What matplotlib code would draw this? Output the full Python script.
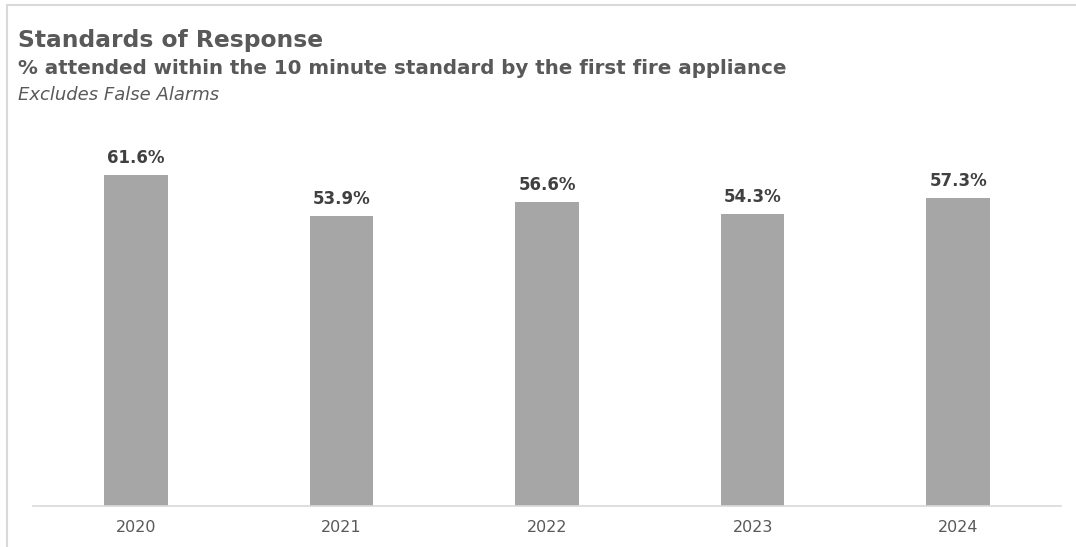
import matplotlib
matplotlib.use("Agg")
import matplotlib.pyplot as plt
from matplotlib.lines import Line2D

years = ["2020", "2021", "2022", "2023", "2024"]
pct_attended = [61.6, 53.9, 56.6, 54.3, 57.3]

plt.rcParams["font.family"] = ["DejaVu Sans"]

fig = plt.figure(figsize=(10.76, 5.47), dpi=100)
W, H = 1076, 547

# axes placed in pixel terms
left, right, bottom, top = 33, 1061, 506, 130
ax = fig.add_axes([left / W, 1 - bottom / H, (right - left) / W, (bottom - top) / H])

x = range(len(years))
ax.bar(x, pct_attended, width=0.31, color="#A6A6A6", zorder=2)
for xi, v in zip(x, pct_attended):
    ax.annotate(f"{v:.1f}%", (xi, v), xytext=(0, 6), textcoords="offset points",
                ha="center", va="bottom", fontsize=12, fontweight="bold", color="#404040")

ax.set_xlim(-0.5, len(years) - 0.5)
ax.set_ylim(0, 70)
ax.set_xticks(list(x))
ax.set_xticklabels(years, fontsize=11.5, color="#595959")
ax.tick_params(axis="x", length=0, pad=10)
ax.set_yticks([])
for s in ["top", "right", "left"]:
    ax.spines[s].set_visible(False)
ax.spines["bottom"].set_color("#D9D9D9")
ax.spines["bottom"].set_linewidth(1.2)

# chart border (top and left)
fig.add_artist(Line2D([7 / W, 7 / W], [0, 1 - 5 / H], transform=fig.transFigure,
                      color="#D9D9D9", lw=1.5))
fig.add_artist(Line2D([7 / W, 1], [1 - 5 / H, 1 - 5 / H], transform=fig.transFigure,
                      color="#D9D9D9", lw=1.5))

fig.text(18 / W, 1 - 47 / H, "Standards of Response", fontsize=16.8, fontweight="bold",
         color="#595959", va="baseline")
fig.text(18 / W, 1 - 74 / H, "% attended within the 10 minute standard by the first fire appliance",
         fontsize=14.3, fontweight="bold", color="#595959", va="baseline")
fig.text(18 / W, 1 - 100 / H, "Excludes False Alarms", fontsize=13, style="italic",
         color="#595959", va="baseline")

fig.savefig("out.png", dpi=100)
